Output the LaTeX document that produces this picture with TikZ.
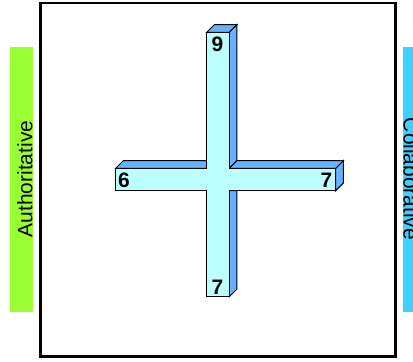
\documentclass[tikz,border=0pt]{standalone}
\usepackage{fontspec}
\setmainfont{Liberation Sans}
\definecolor{frontc}{RGB}{187,255,255}
\definecolor{sidec}{RGB}{102,178,255}
\definecolor{greenbar}{RGB}{153,255,51}
\definecolor{bluebar}{RGB}{64,208,255}
\begin{document}
\begin{tikzpicture}[x=1bp,y=-1bp,
  face/.style={draw=black,line width=1bp,line join=miter},
  frontface/.style={face,fill=frontc},
  sideface/.style={face,fill=sidec},
  digit/.style={font=\fontsize{21}{21}\selectfont\bfseries,inner sep=0pt},
  barlabel/.style={font=\fontsize{21}{21}\selectfont,inner sep=0pt}]
\useasboundingbox (0,0) rectangle (413,362);
\begin{scope}
\clip (0,0) rectangle (413,362);
% side bars
\fill[greenbar] (10,47) rectangle (33,312);
\fill[bluebar] (402.7,47) rectangle (420,312);
\node[barlabel,rotate=90] (auth) at (25,179) {Authoritative};
\node[barlabel,rotate=-90] (collab) at (411,179) {Collaborative};
\end{scope}
% frame
\draw[line width=2.5bp] (40.5,3) rectangle (395.5,356.3);
% horizontal bar back faces
\draw[sideface] (115.7,168.3) -- (123.3,160.7) -- (206.7,160.7) -- (206.7,168.3) -- cycle;
\draw[sideface] (335.7,168.3) -- (343.3,160.7) -- (343.3,183.1) -- (335.7,190.7) -- cycle;
% vertical bar faces
\draw[sideface] (206.7,32.3) -- (214.3,24.7) -- (236.9,24.7) -- (229.3,32.3) -- cycle;
\draw[sideface] (229.3,32.3) -- (236.9,24.7) -- (236.9,160.7) -- (229.3,168.3) -- cycle;
\draw[sideface] (229.3,190.7) -- (236.9,190.7) -- (236.9,289.1) -- (229.3,296.7) -- cycle;
% right part of horizontal top face
\draw[sideface] (229.3,168.3) -- (236.9,160.7) -- (343.3,160.7) -- (335.7,168.3) -- cycle;
% front face
\draw[frontface] (206.7,32.3) -- (229.3,32.3) -- (229.3,168.3) -- (335.7,168.3)
  -- (335.7,190.7) -- (229.3,190.7) -- (229.3,296.7) -- (206.7,296.7)
  -- (206.7,190.7) -- (115.7,190.7) -- (115.7,168.3) -- (206.7,168.3) -- cycle;
% labels
\node[digit] (top) at (217.5,44) {9};
\node[digit] (bottom) at (217.5,287) {7};
\node[digit] (left) at (124,180) {6};
\node[digit] (right) at (326.5,180) {7};
\end{tikzpicture}
\end{document}
